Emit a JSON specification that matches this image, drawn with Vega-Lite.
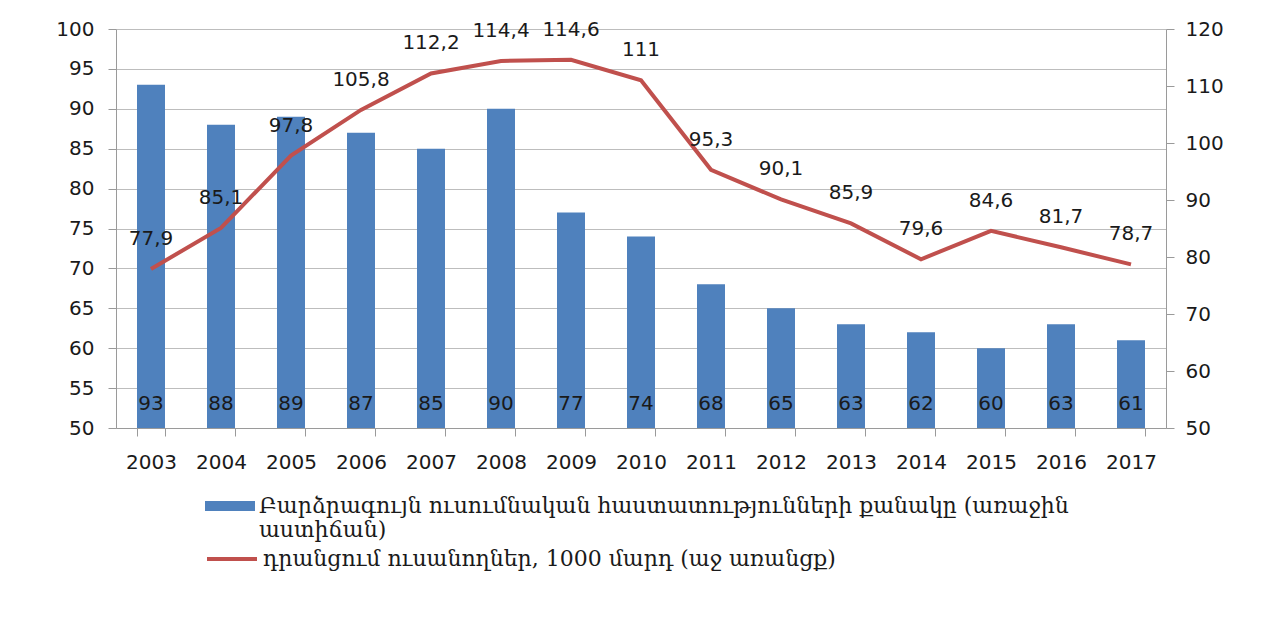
{
  "$schema": "https://vega.github.io/schema/vega-lite/v6.json",
  "width": 1050,
  "height": 399,
  "autosize": {"type": "none"},
  "padding": {"left": 116, "top": 29, "right": 110, "bottom": 200},
  "background": "white",
  "config": {
    "view": {"stroke": null},
    "locale": {"number": {"decimal": ",", "thousands": " ", "grouping": [3], "currency": ["", ""]}},
    "axis": {"labelFont": "DejaVu Sans", "labelFontSize": 20, "labelColor": "#1a1a1a", "domainColor": "#9a9a9a", "tickColor": "#9a9a9a", "gridColor": "#bdbdbd", "tickSize": 8, "title": null, "labelOverlap": false},
    "legend": {"labelFont": "DejaVu Serif", "labelFontSize": 22, "labelColor": "#1a1a1a", "labelLimit": 1200}
  },
  "data": {
    "values": [
      {"year": "2003", "inst": 93, "students": 77.9},
      {"year": "2004", "inst": 88, "students": 85.1},
      {"year": "2005", "inst": 89, "students": 97.8},
      {"year": "2006", "inst": 87, "students": 105.8},
      {"year": "2007", "inst": 85, "students": 112.2},
      {"year": "2008", "inst": 90, "students": 114.4},
      {"year": "2009", "inst": 77, "students": 114.6},
      {"year": "2010", "inst": 74, "students": 111},
      {"year": "2011", "inst": 68, "students": 95.3},
      {"year": "2012", "inst": 65, "students": 90.1},
      {"year": "2013", "inst": 63, "students": 85.9},
      {"year": "2014", "inst": 62, "students": 79.6},
      {"year": "2015", "inst": 60, "students": 84.6},
      {"year": "2016", "inst": 63, "students": 81.7},
      {"year": "2017", "inst": 61, "students": 78.7}
    ]
  },
  "encoding": {
    "x": {
      "field": "year", "type": "ordinal",
      "scale": {"paddingInner": 0.6, "paddingOuter": 0.3},
      "axis": {"labelAngle": 0, "tickBand": "extent", "labelPadding": 16, "grid": false}
    }
  },
  "layer": [
    {
      "layer": [
        {
          "mark": {"type": "bar", "color": "#4F81BD"},
          "encoding": {
            "y": {"field": "inst", "type": "quantitative", "scale": {"domain": [50, 100], "zero": false, "nice": false},
                  "axis": {"orient": "left", "values": [50,55,60,65,70,75,80,85,90,95,100], "grid": true, "labelPadding": 14}},
            "y2": {"datum": 50},
            "fill": {"datum": "Բարձրագույն ուսումնական հաստատությունների քանակը (առաջին աստիճան)",
                     "scale": {"range": ["#4F81BD"]},
                     "legend": {"orient": "none", "legendX": 89, "legendY": 452, "title": null,
                                "symbolType": "M-1,-0.2H1V0.2H-1Z", "symbolSize": 2500, "symbolStrokeWidth": 0,
                                "labelExpr": "['Բարձրագույն ուսումնական հաստատությունների քանակը (առաջին', 'աստիճան)']"}}
          }
        },
        {
          "mark": {"type": "text", "font": "DejaVu Sans", "fontSize": 20, "color": "#1a1a1a", "baseline": "bottom", "dy": -14},
          "encoding": {
            "y": {"datum": 50, "type": "quantitative",
                  "axis": {"orient": "left", "values": [50,55,60,65,70,75,80,85,90,95,100], "grid": true, "labelPadding": 14}},
            "text": {"field": "inst", "type": "quantitative"}
          }
        }
      ]
    },
    {
      "layer": [
        {
          "mark": {"type": "line", "strokeWidth": 4},
          "encoding": {
            "y": {"field": "students", "type": "quantitative", "scale": {"domain": [50, 120], "zero": false, "nice": false},
                  "axis": {"orient": "right", "values": [50,60,70,80,90,100,110,120], "grid": false, "labelPadding": 11}},
            "stroke": {"datum": "դրանցում ուսանողներ, 1000 մարդ (աջ առանցք)",
                       "scale": {"range": ["#C0504D"]},
                       "legend": {"orient": "none", "legendX": 89, "legendY": 503, "title": null,
                                  "symbolType": "stroke", "symbolSize": 2500, "symbolStrokeWidth": 4}}
          }
        },
        {
          "mark": {"type": "text", "font": "DejaVu Sans", "fontSize": 20, "color": "#1a1a1a", "baseline": "bottom", "dy": -20},
          "encoding": {
            "y": {"field": "students", "type": "quantitative",
                  "axis": {"orient": "right", "values": [50,60,70,80,90,100,110,120], "grid": false, "labelPadding": 11}},
            "text": {"field": "students", "type": "quantitative", "format": ".1~f"}
          }
        }
      ]
    }
  ],
  "resolve": {"scale": {"y": "independent"}}
}
